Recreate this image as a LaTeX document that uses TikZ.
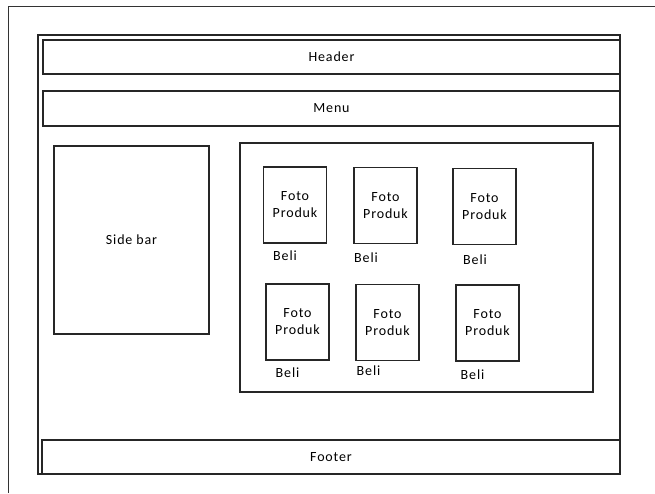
\documentclass[tikz,border=0pt]{standalone}
\usepackage{fontspec}
\setmainfont{Carlito}[LetterSpace=6]
\begin{document}
\begin{tikzpicture}[x=1pt,y=-1pt,
  box/.style={draw=black!85,line width=1.2pt,inner sep=0pt,font=\fontsize{14}{17}\selectfont,align=center},
  foto/.style={box,minimum width=63pt,minimum height=76pt},
  lbl/.style={inner sep=0pt,font=\fontsize{14}{16}\selectfont},
  thin/.style={draw=black!80,line width=0.9pt}]
\useasboundingbox (0,0) rectangle (655,493);
\fill[white] (0,0) rectangle (655,493);
\coordinate (otl) at (8,6);
\coordinate (otr) at (655,6);
\coordinate (obl) at (8,493);
\draw[thin] (obl) -- (otl) -- (otr);
\node[box,minimum width=582pt,minimum height=439pt] (page) at (329,254.5) {};
\node[box,minimum width=577pt,minimum height=34pt] (header) at (331.5,57) {Header};
\node[box,minimum width=577pt,minimum height=35pt] (menu) at (331.5,108.5) {Menu};
\node[box,minimum width=578pt,minimum height=34pt] (footer) at (331,457) {Footer};
\node[box,minimum width=155pt,minimum height=188pt] (sidebar) at (131.5,240) {Side bar};
\node[box,minimum width=353pt,minimum height=249pt] (content) at (416.5,267.5) {};
\node[foto] (b1) at (295,205) {Foto\\Produk};
\node[foto] (b2) at (385.5,205.5) {Foto\\Produk};
\node[foto] (b3) at (484.5,206.5) {Foto\\Produk};
\node[foto] (b4) at (297.5,322) {Foto\\Produk};
\node[foto] (b5) at (387.5,322.5) {Foto\\Produk};
\node[foto] (b6) at (487.5,323) {Foto\\Produk};
\node[lbl] (beli1) at (285,256) {Beli};
\node[lbl] (beli2) at (366,258) {Beli};
\node[lbl] (beli3) at (475,259.5) {Beli};
\node[lbl] (beli4) at (287.5,373) {Beli};
\node[lbl] (beli5) at (368.5,371) {Beli};
\node[lbl] (beli6) at (472.5,375) {Beli};
\end{tikzpicture}
\end{document}
